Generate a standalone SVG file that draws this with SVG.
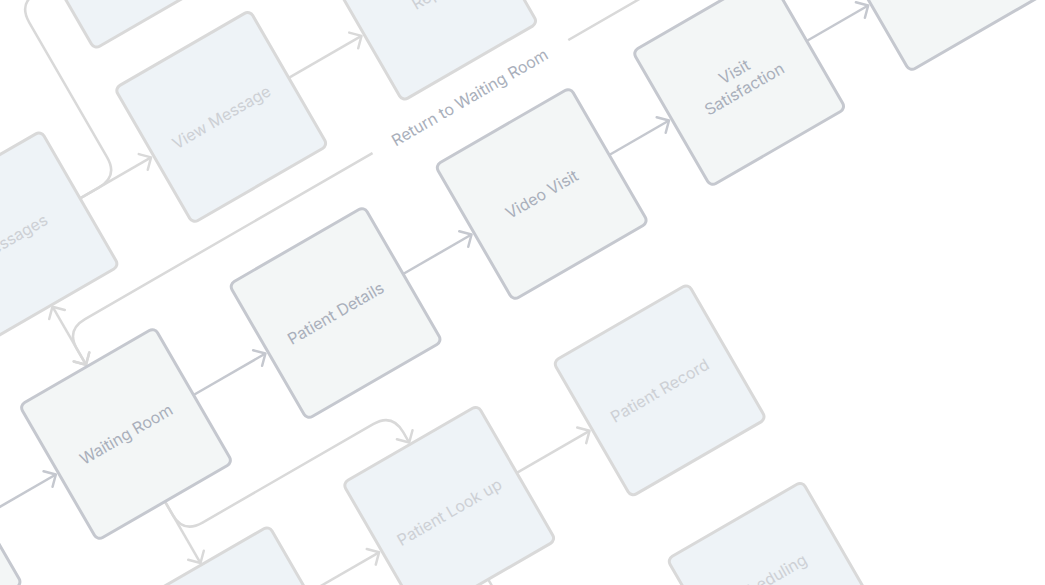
<svg xmlns="http://www.w3.org/2000/svg" width="1045" height="585" viewBox="0 0 1045 585">
<style>
.nm rect{fill:#F3F6F6;stroke:#C5C8CF;stroke-width:3}
.nl rect{fill:#EEF3F7;stroke:#D9D9D9;stroke-width:3}
text{font-family:Inter,"Noto Sans","Liberation Sans",sans-serif;font-size:16px;text-anchor:middle;dominant-baseline:central}
.nm text{fill:#A9AFBB}
.nl text{fill:#CDD0D5}
.lbl{fill:#A9AFBB}
.cm{fill:none;stroke:#C5C8CF;stroke-width:2.5;marker-end:url(#am)}
.cl{fill:none;stroke:#D9D9D9;stroke-width:2.5;marker-end:url(#al)}
</style>
<defs>
<marker id="am" viewBox="-12 -12 14 24" refX="0" refY="0" markerWidth="14" markerHeight="24" markerUnits="userSpaceOnUse" orient="auto-start-reverse"><path d="M-9,-9 L0,0 L-9,9" fill="none" stroke="#C5C8CF" stroke-width="2.5" stroke-linecap="round" stroke-linejoin="round"/></marker>
<marker id="al" viewBox="-12 -12 14 24" refX="0" refY="0" markerWidth="14" markerHeight="24" markerUnits="userSpaceOnUse" orient="auto-start-reverse"><path d="M-9,-9 L0,0 L-9,9" fill="none" stroke="#D9D9D9" stroke-width="2.5" stroke-linecap="round" stroke-linejoin="round"/></marker>
</defs>
<rect width="1045" height="585" fill="#FFFFFF"/>
<g transform="translate(126,434) rotate(-30)">
<g id="connectors">
<path class="cm" d="M-165,0 L-81,0"/>
<path class="cm" d="M78,0 L161,0"/>
<path class="cm" d="M320,0 L399,0"/>
<path class="cm" d="M558,0 L627,0"/>
<path class="cm" d="M786,0 L857,0"/>
<path class="cl" d="M78,-227 L160,-227"/>
<path class="cl" d="M78,-227 L100,-227 Q122,-227 122,-249 L122,-405 Q122,-427 144,-427 L162,-427"/>
<path class="cl" d="M319,-227 L403,-227"/>
<path class="cl" d="M0,-147 L0,-80" marker-start="url(#al)"/>
<path class="cl" d="M938,-78 L938,-98 Q938,-120 916,-120 L22,-120 Q0,-120 0,-98 L0,-80"/>
<rect x="354" y="-132" width="226" height="24" fill="#FFFFFF"/>
<text class="lbl" x="466" y="-120">Return to Waiting Room</text>
<path class="cl" d="M0,78 L0,149"/>
<path class="cl" d="M0,78 L0,93 Q0,115 22,115 L219,115 Q241,115 241,137 L241,149"/>
<path class="cl" d="M78,229 L160,229"/>
<path class="cl" d="M319,229 L403,229"/>
<path class="cl" d="M241,307 L241,378"/>
</g>
<g id="node-prev" class="nm"><rect x="-321" y="-78" width="156" height="156" rx="6"/></g>
<g id="node-waiting-room" class="nm"><rect x="-78" y="-78" width="156" height="156" rx="6"/><text x="0" y="0">Waiting Room</text></g>
<g id="node-patient-details" class="nm"><rect x="164" y="-78" width="156" height="156" rx="6"/><text x="242" y="0">Patient Details</text></g>
<g id="node-video-visit" class="nm"><rect x="402" y="-78" width="156" height="156" rx="6"/><text x="480" y="0">Video Visit</text></g>
<g id="node-visit-satisfaction" class="nm"><rect x="630" y="-78" width="156" height="156" rx="6"/><text x="708" y="0"><tspan x="708" dy="-10">Visit</tspan><tspan x="708" dy="20">Satisfaction</tspan></text></g>
<g id="node-next" class="nm"><rect x="860" y="-78" width="156" height="156" rx="6"/></g>
<g id="node-messages" class="nl"><rect x="-78" y="-305" width="156" height="156" rx="6"/><text x="0" y="-227">Messages</text></g>
<g id="node-view-message" class="nl"><rect x="163" y="-305" width="156" height="156" rx="6"/><text x="241" y="-227">View Message</text></g>
<g id="node-reply" class="nl"><rect x="406" y="-306" width="156" height="156" rx="6"/><text x="484" y="-228">Reply</text></g>
<g id="node-top" class="nl"><rect x="165" y="-505" width="156" height="156" rx="6"/></g>
<g id="node-below" class="nl"><rect x="-78" y="151" width="156" height="156" rx="6"/></g>
<g id="node-patient-lookup" class="nl"><rect x="163" y="151" width="156" height="156" rx="6"/><text x="241" y="229">Patient Look up</text></g>
<g id="node-patient-record" class="nl"><rect x="406" y="151" width="156" height="156" rx="6"/><text x="484" y="229">Patient Record</text></g>
<g id="node-scheduling" class="nl"><rect x="406" y="379" width="156" height="156" rx="6"/><text x="484" y="447">Scheduling</text></g>
</g>
</svg>
